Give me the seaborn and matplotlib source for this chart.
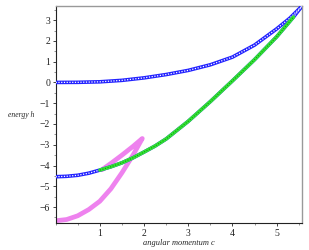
import numpy as np
import pandas as pd
import matplotlib
matplotlib.use("Agg")
import matplotlib.pyplot as plt
import seaborn as sns
from matplotlib.ticker import MultipleLocator

# upper family (blue circles)
upper_c = [0.0, 0.5, 1.0, 1.5, 2.0, 2.5, 3.0, 3.5, 4.0, 4.5, 5.0, 5.3, 5.57]
upper_h = [0.0, 0.005, 0.03, 0.1, 0.22, 0.38, 0.58, 0.85, 1.22, 1.8, 2.58, 3.1, 3.67]

# lower family (blue circles, green crosses from c = 1 on)
lower_c = [0.0, 0.25, 0.5, 0.75, 1.0, 1.25, 1.5, 1.75, 2.0, 2.25, 2.5,
           3.0, 3.5, 4.0, 4.5, 5.0, 5.3, 5.38, 5.57]
lower_h = [-4.54, -4.52, -4.47, -4.37, -4.22, -4.06, -3.87, -3.63, -3.35, -3.06, -2.72,
           -1.87, -0.92, 0.08, 1.1, 2.2, 2.95, 3.15, 3.67]
green_from, green_to = 4, 17

# cusp curve (violet), lower branch up to the tip, then back along the upper branch
cusp_c = [0.0, 0.25, 0.5, 0.75, 1.0, 1.25, 1.5, 1.75, 1.96, 1.75, 1.5, 1.25, 1.05]
cusp_h = [-6.66, -6.6, -6.42, -6.12, -5.72, -5.12, -4.35, -3.5, -2.7, -3.08, -3.5, -3.9, -4.2]

x_ticks = [1, 2, 3, 4, 5]
y_ticks = [-6, -5, -4, -3, -2, -1, 0, 1, 2, 3]

sns.set_theme(style="white")
plt.rcParams['font.family'] = ['Liberation Serif', 'DejaVu Serif']
plt.rcParams['axes.unicode_minus'] = True

fig = plt.figure(figsize=(3.09, 2.5), dpi=100)
ax = fig.add_axes([0.180, 0.107, 0.797, 0.869])

cusp = pd.DataFrame({"c": cusp_c, "h": cusp_h})
upper = pd.DataFrame({"c": upper_c, "h": upper_h})
lower = pd.DataFrame({"c": lower_c, "h": lower_h})
green = lower.iloc[green_from:green_to + 1]


def beads(df, color, inner, lw=2.6):
    # thick band + white dotted core, looks like a chain of open circles
    sns.lineplot(data=df, x="c", y="h", sort=False, estimator=None, ax=ax,
                 color=color, lw=lw, zorder=3)
    ln = sns.lineplot(data=df, x="c", y="h", sort=False, estimator=None, ax=ax,
                      color=inner, lw=0.9, zorder=4)
    ln.lines[-1].set_linestyle((0, (1.0, 1.2)))


sns.lineplot(data=cusp, x="c", y="h", sort=False, estimator=None, ax=ax,
             color="#ee82ee", lw=3.4, zorder=2, solid_capstyle="round")
beads(upper, "#2222ff", "white")
beads(lower, "#2222ff", "white")
sns.lineplot(data=green, x="c", y="h", sort=False, estimator=None, ax=ax,
             color="#33e633", lw=2.6, zorder=5)
g = sns.lineplot(data=green, x="c", y="h", sort=False, estimator=None, ax=ax,
                 color="#158f15", lw=0.8, zorder=6)
g.lines[-1].set_linestyle((0, (1.0, 1.4)))

ax.set_xlim(0, 5.57)
ax.set_ylim(-6.78, 3.68)
ax.set_xticks(x_ticks)
ax.set_yticks(y_ticks)
ax.xaxis.set_minor_locator(MultipleLocator(0.5))
ax.yaxis.set_minor_locator(MultipleLocator(0.5))
ax.tick_params(which="major", direction="out", length=2.5, width=0.6,
               labelsize=7, pad=1.5, colors="#222222")
ax.tick_params(which="minor", direction="out", length=1.5, width=0.5, colors="#666666")
ax.tick_params(bottom=True, left=True, which="both")

for side in ["left", "bottom"]:
    ax.spines[side].set_color("#222222")
    ax.spines[side].set_linewidth(0.8)
for side in ["top", "right"]:
    ax.spines[side].set_color("#999999")
    ax.spines[side].set_linewidth(1.0)

ax.set_xlabel("angular momentum c", fontsize=6, style="italic", labelpad=1)
ax.set_ylabel("energy h", fontsize=5.5, style="italic", rotation=0, ha="center", va="center")
ax.yaxis.set_label_coords(-0.14, 0.5)

fig.savefig("out.png", dpi=100)
